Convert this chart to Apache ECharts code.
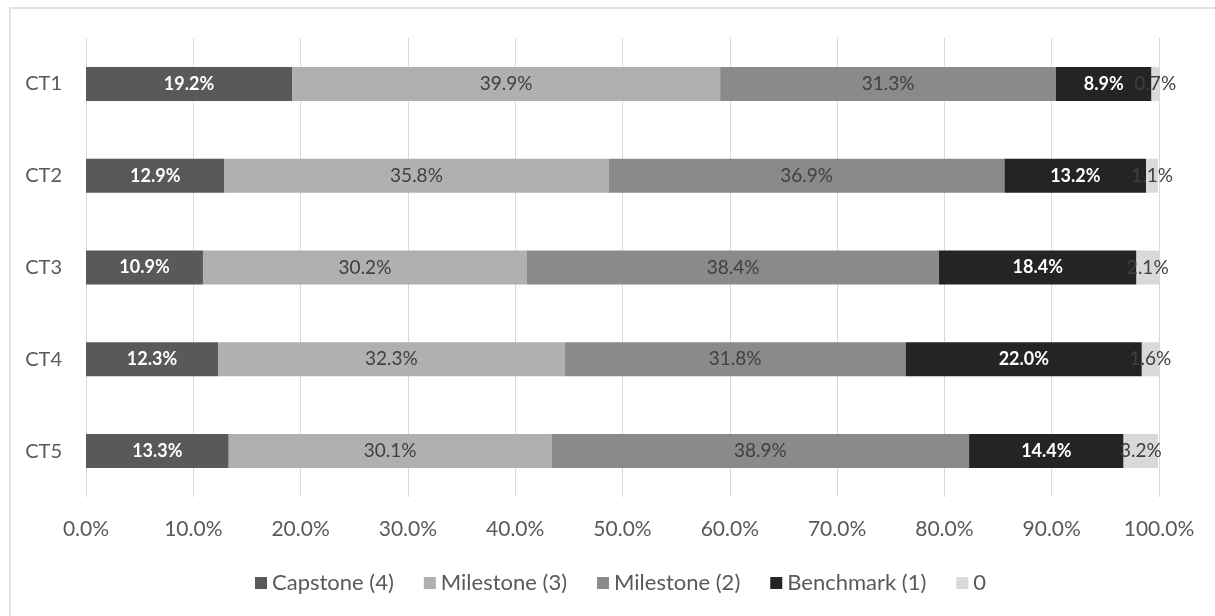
<!DOCTYPE html>
<html>
<head>
<meta charset="utf-8">
<script src="https://cdn.jsdelivr.net/npm/echarts@6/dist/echarts.min.js"></script>
<style>
  html, body { margin: 0; padding: 0; background: #ffffff; }
  #chart { width: 1215px; height: 616px; }
</style>
</head>
<body>
<div id="chart"></div>
<script>
// Rating distribution per CT item (percent of responses)
const categories = ['CT1', 'CT2', 'CT3', 'CT4', 'CT5'];
const seriesNames = ['Capstone (4)', 'Milestone (3)', 'Milestone (2)', 'Benchmark (1)', '0'];
const capstone4  = [19.2, 12.9, 10.9, 12.3, 13.3];
const milestone3 = [39.9, 35.8, 30.2, 32.3, 30.1];
const milestone2 = [31.3, 36.9, 38.4, 31.8, 38.9];
const benchmark1 = [8.9, 13.2, 18.4, 22.0, 14.4];
const zeroScore  = [0.7, 1.1, 2.1, 1.6, 3.2];
const xTicks = [0, 10, 20, 30, 40, 50, 60, 70, 80, 90, 100];

const values = [capstone4, milestone3, milestone2, benchmark1, zeroScore];
const colors = ['#595959', '#b0b0b0', '#8a8a8a', '#242424', '#d9d9d9'];
const labelColors = ['#ffffff', '#404040', '#404040', '#ffffff', '#404040'];
const labelWeights = ['bold', 'normal', 'normal', 'bold', 'normal'];
const FONT = 'Lato, "Liberation Sans", sans-serif';

const chart = echarts.init(document.getElementById('chart'), null, { renderer: 'canvas' });

const series = seriesNames.map((name, i) => ({
  name: name,
  type: 'bar',
  stack: 'total',
  barWidth: 34,
  data: values[i],
  itemStyle: { color: colors[i] },
  label: {
    show: true,
    position: 'inside',
    color: labelColors[i],
    fontFamily: FONT,
    fontSize: labelWeights[i] === 'bold' ? 18 : 19,
    fontWeight: labelWeights[i],
    formatter: p => p.value.toFixed(1) + '%'
  },
  emphasis: { disabled: true }
}));

chart.setOption({
  animation: false,
  backgroundColor: '#ffffff',
  graphic: [{
    type: 'rect',
    shape: { x: 10, y: 8, width: 1230, height: 640 },
    style: { fill: 'none', stroke: '#d9d9d9', lineWidth: 1.5 },
    silent: true,
    z: -1
  }],
  grid: { left: 86, right: 56, top: 38, bottom: 119, containLabel: false },
  legend: {
    data: seriesNames,
    left: 250,
    top: 567,
    icon: 'rect',
    itemWidth: 12,
    itemHeight: 12,
    itemGap: 30,
    textStyle: { color: '#595959', fontFamily: FONT, fontSize: 22 }
  },
  xAxis: {
    type: 'value',
    min: xTicks[0],
    max: xTicks[xTicks.length - 1],
    interval: xTicks[1] - xTicks[0],
    axisLine: { show: false },
    axisTick: { show: false },
    splitLine: { show: true, lineStyle: { color: '#d9d9d9', width: 1 } },
    axisLabel: {
      color: '#595959',
      fontFamily: FONT,
      fontSize: 21,
      margin: 22,
      formatter: v => v.toFixed(1) + '%'
    }
  },
  yAxis: {
    type: 'category',
    data: categories,
    inverse: true,
    axisLine: { show: false },
    axisTick: { show: false },
    splitLine: { show: false },
    axisLabel: {
      color: '#595959',
      fontFamily: FONT,
      fontSize: 20,
      margin: 24
    }
  },
  series: series
});
</script>
</body>
</html>
